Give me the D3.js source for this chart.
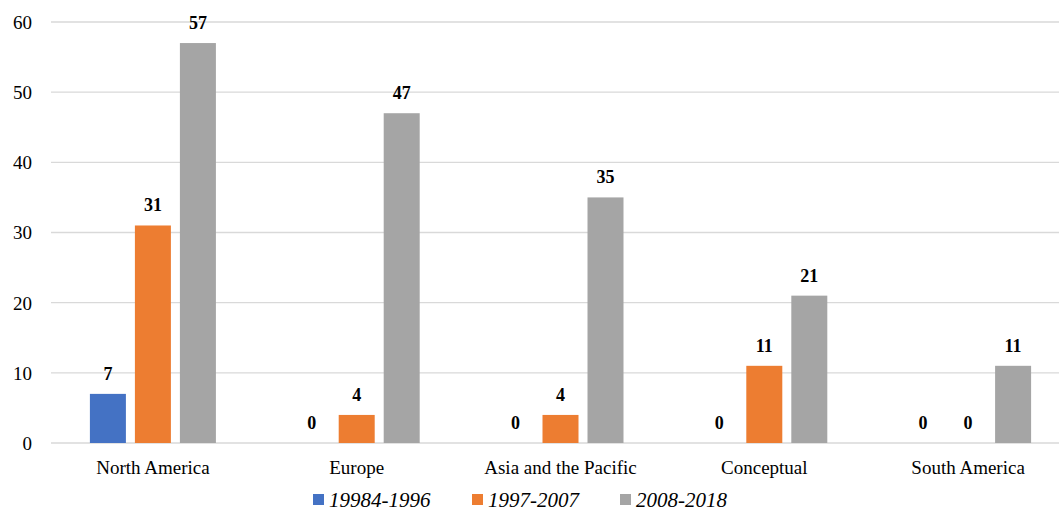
<!DOCTYPE html>
<html>
<head>
<meta charset="utf-8">
<script src="https://cdn.jsdelivr.net/npm/d3@7/dist/d3.min.js"></script>
<style>
  html, body { margin: 0; padding: 0; background: #fff; overflow: hidden; }
  .serif { font-family: "Liberation Serif", serif !important; }
</style>
</head>
<body>
<svg id="chart" width="1059" height="513" class="serif"></svg>
<script>
// Regions and number of studies per period
const categories = ["North America", "Europe", "Asia and the Pacific", "Conceptual", "South America"];
const seriesNames = ["19984-1996", "1997-2007", "2008-2018"];
const period1 = [7, 0, 0, 0, 0];
const period2 = [31, 4, 4, 11, 0];
const period3 = [57, 47, 35, 21, 11];
const seriesValues = [period1, period2, period3];
const colors = ["#4472C4", "#ED7D31", "#A5A5A5"];
const yTicks = [0, 10, 20, 30, 40, 50, 60];

const SERIF = '"Liberation Serif", serif';

function draw() {
  const svg = d3.select("#chart");
  const plotLeft = 51, plotRight = 1070, plotTop = 22, plotBottom = 443;

  const x = d3.scaleBand().domain(categories).range([plotLeft, plotRight]);
  const y = d3.scaleLinear().domain([0, 60]).range([plotBottom, plotTop]);
  const barW = 36, barStep = 45;

  // horizontal gridlines
  svg.append("g").selectAll("line").data(yTicks).join("line")
    .attr("x1", plotLeft).attr("x2", plotRight)
    .attr("y1", d => y(d)).attr("y2", d => y(d))
    .attr("stroke", "#d9d9d9").attr("stroke-width", 1.3);

  // y axis labels
  const yAxis = svg.append("g").attr("transform", `translate(${plotLeft - 19},0)`)
    .call(d3.axisLeft(y).tickValues(yTicks).tickSize(0).tickPadding(0));
  yAxis.attr("font-family", SERIF).attr("font-size", 19);
  yAxis.select(".domain").remove();
  yAxis.selectAll("text").attr("class", "serif").style("font-family", SERIF)
    .attr("font-size", 19).attr("fill", "#000").attr("dy", "0.34em");

  // bars
  const data = [];
  categories.forEach((c, i) => seriesValues.forEach((vals, s) => data.push({ c, s, v: vals[i] })));
  const cx = d => x(d.c) + x.bandwidth() / 2 + (d.s - 1) * barStep;

  svg.append("g").selectAll("rect").data(data.filter(d => d.v > 0)).join("rect")
    .attr("x", d => cx(d) - barW / 2)
    .attr("y", d => y(d.v))
    .attr("width", barW)
    .attr("height", d => y(0) - y(d.v))
    .attr("fill", d => colors[d.s]);

  // value labels
  svg.append("g").selectAll("text").data(data).join("text")
    .attr("class", "serif").style("font-family", SERIF)
    .attr("x", d => cx(d))
    .attr("y", d => y(d.v) - 14)
    .attr("text-anchor", "middle")
    .attr("font-weight", "bold").attr("font-size", 18)
    .attr("fill", "#000")
    .text(d => d.v);

  // category labels
  svg.append("g").selectAll("text").data(categories).join("text")
    .attr("class", "serif").style("font-family", SERIF)
    .attr("x", d => x(d) + x.bandwidth() / 2)
    .attr("y", 474)
    .attr("text-anchor", "middle")
    .attr("font-size", 19)
    .attr("fill", "#000")
    .text(d => d);

  // legend
  const legendX = [313, 472, 620];
  const lg = svg.append("g").selectAll("g").data(seriesNames).join("g")
    .attr("transform", (d, i) => `translate(${legendX[i]},0)`);
  lg.append("rect").attr("x", 0).attr("y", 494).attr("width", 11).attr("height", 11)
    .attr("fill", (d, i) => colors[i]);
  lg.append("text").attr("class", "serif").style("font-family", SERIF)
    .attr("x", 16).attr("y", 507)
    .attr("font-style", "italic").attr("font-size", 21)
    .attr("fill", "#000")
    .text(d => d);
}

draw();
</script>
</body>
</html>
